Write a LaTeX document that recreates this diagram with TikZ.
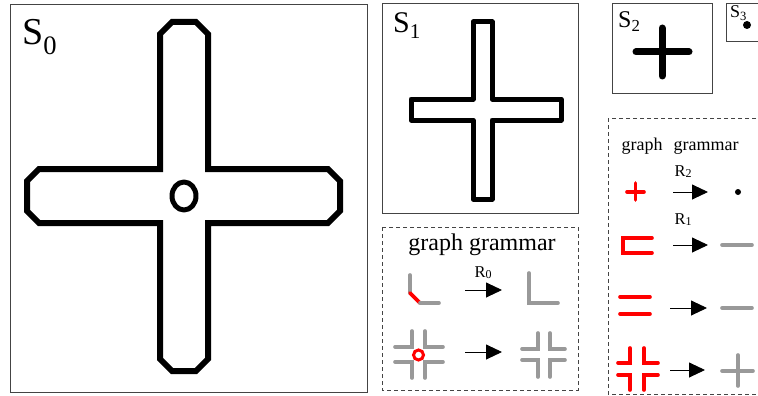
\documentclass[tikz,border=0pt]{standalone}
\usepackage{fontspec}
\setmainfont{Liberation Serif}
\usetikzlibrary{positioning,arrows.meta}
\definecolor{rulegray}{HTML}{999999}
\definecolor{framegray}{HTML}{444444}
\newcommand{\rulelab}[1]{R\raisebox{-1.5pt}{\fontsize{12}{12}\selectfont #1}}

\begin{document}
\begin{tikzpicture}[x=1pt,y=-1pt,
  frame/.style={draw=framegray,line width=1pt},
  dbox/.style={draw=framegray,line width=0.8pt,dash pattern=on 4pt off 3pt},
  outline/.style={draw=black,line width=#1,line join=round},
  gr/.style={draw=rulegray,line width=3.6pt,line cap=round},
  rd/.style={draw=red,line width=3.6pt,line cap=round},
  arr/.style={-{Triangle[length=16pt,width=15pt]},line width=0.9pt},
  lab/.style={inner sep=0pt,anchor=base west,font=\fontsize{#1}{#1}\selectfont},
  rl/.style={inner sep=0pt,anchor=base,font=\fontsize{16.5}{16.5}\selectfont}]
\useasboundingbox (0,0) rectangle (758,396);

% S0
\draw[frame] (10,5) rectangle (367,392);
\node[lab=38] (s0) at (22,45) {S\textsubscript{0}};
\draw[outline=6pt,line join=miter] (172,22) -- (196,22) -- (208,34) -- (208,169) -- (328,169) -- (340,181)
  -- (340,211) -- (328,223) -- (208,223) -- (208,359) -- (196,371) -- (172,371) -- (160,359)
  -- (160,223) -- (39,223) -- (27,211) -- (27,181) -- (39,169) -- (160,169) -- (160,34) -- cycle;
\draw[outline=5pt] (184,196) ellipse [x radius=12,y radius=14];

% S1
\draw[frame] (382,4) rectangle (578,213);
\node[lab=30] (s1) at (393,33) {S\textsubscript{1}};
\draw[outline=5pt] (473,22) -- (492,22) -- (492,99) -- (561,99) -- (561,120) -- (492,120) -- (492,199)
  -- (473,199) -- (473,120) -- (411,120) -- (411,99) -- (473,99) -- cycle;

% S2, S3
\draw[frame] (612,4) rectangle (712,94);
\node[lab=24] (s2) at (618,28) {S\textsubscript{2}};
\draw[line width=7pt,line cap=round] (636,52) -- (689,52) (662,28) -- (662,76);
\draw[frame] (726,4) rectangle (770,42);
\node[lab=18] (s3) at (730,18) {S\textsubscript{3}};
\fill (747,25) circle (4);

% graph grammar, R0
\draw[dbox] (382,227) rectangle (578,390);
\node[inner sep=0pt,anchor=base,font=\fontsize{24}{24}\selectfont] (gg) at (482,250) {graph grammar};
\draw[gr] (410,275) -- (410,293);
\draw[rd] (410,293) -- (420,303);
\draw[gr] (420,303) -- (439,303);
\coordinate (r0a) at (465,290);
\coordinate (r0b) at (502,290);
\draw[arr] (r0a) -- (r0b);
\node[rl] (r0) at (483,277) {\rulelab{0}};
\draw[gr] (529,273) -- (529,303) -- (558,303);
\draw[gr] (412,331) -- (412,347) -- (395,347);
\draw[gr] (425,331) -- (425,347) -- (443,347);
\draw[gr] (395,362) -- (412,362) -- (412,378);
\draw[gr] (443,362) -- (425,362) -- (425,378);
\draw[red,line width=3pt] (418.5,355) circle (5);
\coordinate (j0a) at (465,352);
\coordinate (j0b) at (502,352);
\draw[arr] (j0a) -- (j0b);
\draw[gr] (538,333) -- (538,349) -- (522,349);
\draw[gr] (550,333) -- (550,349) -- (565,349);
\draw[gr] (522,360) -- (538,360) -- (538,377);
\draw[gr] (565,360) -- (550,360) -- (550,377);

% graph grammar, R1 R2
\draw[dbox] (608,118) rectangle (770,394);
\node[inner sep=0pt,anchor=base,font=\fontsize{18}{18}\selectfont] (gr1) at (642,150) {graph};
\node[inner sep=0pt,anchor=base,font=\fontsize{18}{18}\selectfont] (gr2) at (706,150) {grammar};
\node[rl] (r2) at (683,176) {\rulelab{2}};
\draw[rd] (627,192) -- (644,192) (635.5,183) -- (635.5,200);
\coordinate (r2a) at (673,192);
\coordinate (r2b) at (708,192);
\draw[arr] (r2a) -- (r2b);
\fill (738,192) circle (3);
\node[rl] (r1) at (683,224) {\rulelab{1}};
\draw[rd] (652,238) -- (623,238) -- (623,253) -- (652,253);
\coordinate (r1a) at (673,245);
\coordinate (r1b) at (708,245);
\draw[arr] (r1a) -- (r1b);
\draw[gr] (722,245) -- (752,245);
\draw[rd] (620,297) -- (650,297) (620,314) -- (650,314);
\coordinate (r3a) at (670,308);
\coordinate (r3b) at (707,308);
\draw[arr] (r3a) -- (r3b);
\draw[gr] (722,308) -- (752,308);
\draw[rd] (630,348) -- (630,363) -- (618,363);
\draw[rd] (644,348) -- (644,363) -- (658,363);
\draw[rd] (618,375) -- (630,375) -- (630,390);
\draw[rd] (658,375) -- (644,375) -- (644,390);
\coordinate (r4a) at (670,370);
\coordinate (r4b) at (705,370);
\draw[arr] (r4a) -- (r4b);
\draw[gr] (722,371) -- (753,371) (738,355) -- (738,386);
\end{tikzpicture}
\end{document}
